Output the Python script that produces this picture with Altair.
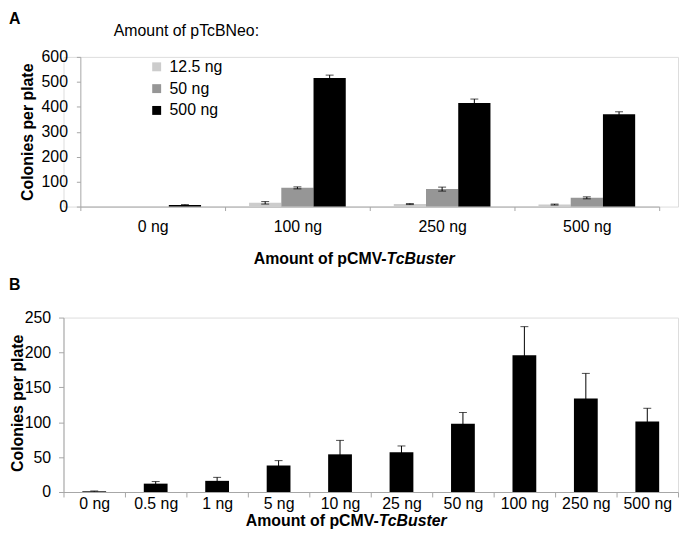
import altair as alt
import pandas as pd

FONT = "Liberation Sans, Arial, sans-serif"
GRAY = "#a6a6a6"

# ---------------- Panel A data ----------------
groups_a = ["0 ng", "100 ng", "250 ng", "500 ng"]
series_a = ["12.5 ng", "50 ng", "500 ng"]
colors_a = ["#cccccc", "#969696", "#000000"]
mean_12_5 = [0, 15, 10, 8]
mean_50 = [0, 75, 70, 35]
mean_500 = [6, 515, 415, 370]
err_12_5 = [0, 5, 2, 2]
err_50 = [0, 4, 8, 4]
err_500 = [2, 12, 16, 10]
ticks_a = [0, 100, 200, 300, 400, 500, 600]

# ---------------- Panel B data ----------------
doses_b = ["0 ng", "0.5 ng", "1 ng", "5 ng", "10 ng", "25 ng", "50 ng",
           "100 ng", "250 ng", "500 ng"]
mean_b = [1, 12, 16, 38, 54, 57, 98, 196, 134, 101]
err_b = [0.5, 3, 5, 7, 20, 9, 16, 41, 36, 19]
ticks_b = [0, 50, 100, 150, 200, 250]

rows = []
for s, ms, es in zip(series_a, [mean_12_5, mean_50, mean_500],
                     [err_12_5, err_50, err_500]):
    for g, m, e in zip(groups_a, ms, es):
        rows.append({"group": g, "series": s, "mean": m,
                     "lo": m - e, "hi": m + e, "err": e})
df_a = pd.DataFrame(rows)

df_b = pd.DataFrame({
    "dose": doses_b,
    "mean": mean_b,
    "lo": [m - e for m, e in zip(mean_b, err_b)],
    "hi": [m + e for m, e in zip(mean_b, err_b)],
})

# ---------------- Panel A ----------------
x_axis_a = alt.Axis(title=None, labelAngle=0, tickBand="extent", tickSize=4,
                    labelPadding=8, domainColor=GRAY, tickColor=GRAY,
                    labelFontSize=16, labelColor="black", labelFont=FONT,
                    labelOverlap=False)
x_scale_a = alt.Scale(range=[17, 601], paddingInner=0, paddingOuter=0)
xoff_a = alt.XOffset("series:N", sort=series_a,
                     scale=alt.Scale(paddingInner=0, paddingOuter=0.745))
y_axis_a = alt.Axis(values=ticks_a, offset=-17, tickSize=4, labelPadding=9,
                    domainColor=GRAY, tickColor=GRAY, grid=False,
                    labelFontSize=16, labelColor="black", labelFont=FONT,
                    labelFlush=False,
                    title="Colonies per plate", titleX=-53, titleY=75.5,
                    titleAngle=270, titleAlign="center", titleBaseline="middle",
                    titleFontSize=16, titleFontWeight="bold", titleFont=FONT,
                    titleColor="black")
y_scale_a = alt.Scale(domain=[0, 600], nice=False)

base_a = alt.Chart(df_a)
bars_a = base_a.mark_bar().encode(
    x=alt.X("group:N", sort=groups_a, scale=x_scale_a, axis=x_axis_a),
    xOffset=xoff_a,
    y=alt.Y("mean:Q", scale=y_scale_a, axis=y_axis_a),
    color=alt.Color("series:N", sort=series_a,
                    scale=alt.Scale(domain=series_a, range=colors_a),
                    legend=alt.Legend(title=None, orient="none", legendX=86,
                                      legendY=2, symbolType="square",
                                      symbolSize=81, symbolStrokeWidth=0,
                                      symbolOpacity=1,
                                      labelFontSize=16, labelFont=FONT,
                                      labelColor="black",
                                      rowPadding=6, labelOffset=5, padding=0)),
)
err_rule_a = base_a.mark_rule(color="black", strokeWidth=1).encode(
    x=alt.X("group:N", sort=groups_a, scale=x_scale_a, axis=x_axis_a),
    xOffset=xoff_a,
    y=alt.Y("lo:Q", scale=y_scale_a, axis=y_axis_a),
    y2="hi:Q",
).transform_filter("datum.err > 0")
cap_hi_a = base_a.mark_tick(color="black", size=8, thickness=1).encode(
    x=alt.X("group:N", sort=groups_a, scale=x_scale_a, axis=x_axis_a),
    xOffset=xoff_a,
    y=alt.Y("hi:Q", scale=y_scale_a, axis=y_axis_a),
).transform_filter("datum.err > 0")
cap_lo_a = base_a.mark_tick(color="black", size=8, thickness=1).encode(
    x=alt.X("group:N", sort=groups_a, scale=x_scale_a, axis=x_axis_a),
    xOffset=xoff_a,
    y=alt.Y("lo:Q", scale=y_scale_a, axis=y_axis_a),
).transform_filter("datum.err > 0")


def label(txt, x, y, size=16, weight="normal", style="normal", align="left"):
    return alt.Chart(pd.DataFrame({"t": [txt]})).mark_text(
        font=FONT, fontSize=size, fontWeight=weight, fontStyle=style,
        align=align, baseline="top", color="black",
    ).encode(text="t:N", x=alt.value(x), y=alt.value(y))


panel_a = alt.layer(
    bars_a, err_rule_a, cap_hi_a, cap_lo_a,
    label("A", -55, -46, weight="bold"),
    label("Amount of pTcBNeo:", 124, -34, align="center"),
    label("Amount of pCMV-", 326, 196.4, weight="bold", align="right"),
    label("TcBuster", 326, 196.4, weight="bold", style="italic"),
).properties(width=620, height=151)

# ---------------- Panel B ----------------
x_axis_b = alt.Axis(title=None, labelAngle=0, tickBand="extent", tickSize=5,
                    labelPadding=-1, domainColor=GRAY, tickColor=GRAY,
                    labelFontSize=16, labelColor="black", labelFont=FONT,
                    labelOverlap=False)
x_scale_b = alt.Scale(paddingInner=0, paddingOuter=0)
y_axis_b = alt.Axis(values=ticks_b, tickSize=5, labelPadding=8,
                    domainColor=GRAY, tickColor=GRAY, grid=False,
                    labelFontSize=16, labelColor="black", labelFont=FONT,
                    labelFlush=False,
                    title="Colonies per plate", titleX=-46, titleY=86,
                    titleAngle=270, titleAlign="center", titleBaseline="middle",
                    titleFontSize=16, titleFontWeight="bold", titleFont=FONT,
                    titleColor="black")
y_scale_b = alt.Scale(domain=[0, 250], nice=False)

base_b = alt.Chart(df_b)
bars_b = base_b.mark_bar(width=24, color="black").encode(
    x=alt.X("dose:N", sort=doses_b, scale=x_scale_b, axis=x_axis_b),
    y=alt.Y("mean:Q", scale=y_scale_b, axis=y_axis_b),
)
err_rule_b = base_b.mark_rule(color="black", strokeWidth=1).encode(
    x=alt.X("dose:N", sort=doses_b, scale=x_scale_b, axis=x_axis_b),
    y=alt.Y("lo:Q", scale=y_scale_b, axis=y_axis_b),
    y2="hi:Q",
)
cap_hi_b = base_b.mark_tick(color="black", size=8, thickness=1).encode(
    x=alt.X("dose:N", sort=doses_b, scale=x_scale_b, axis=x_axis_b),
    y=alt.Y("hi:Q", scale=y_scale_b, axis=y_axis_b),
)

panel_b = alt.layer(
    bars_b, err_rule_b, cap_hi_b,
    label("B", -55, -40.7, weight="bold"),
    label("Amount of pCMV-", 318, 197.5, weight="bold", align="right"),
    label("TcBuster", 318, 197.5, weight="bold", style="italic"),
).properties(width=620, height=176)

chart = alt.vconcat(panel_a, panel_b, spacing=8).properties(
    padding=0, background="white"
).configure_view(stroke=None).configure(font=FONT)

chart.save("out.html", embed_options={"renderer": "svg", "actions": False})
